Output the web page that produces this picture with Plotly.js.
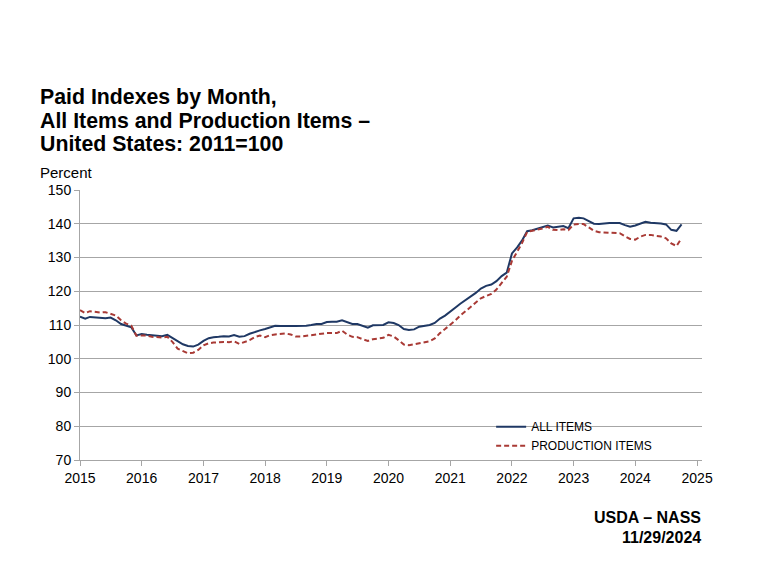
<!DOCTYPE html>
<html>
<head>
<meta charset="utf-8">
<script src="https://cdn.plot.ly/plotly-3.0.1.min.js"></script>
<style>html,body{margin:0;padding:0;background:#fff}#chart{width:760px;height:570px}</style>
</head>
<body>
<div id="chart"></div>
<script>
// Monthly series, January 2015 through October 2024
const startYear = 2015;
const allItems = [
112.5,111.9,112.4,112.2,112.0,112.0,112.2,111.4,110.3,109.8,109.3,106.9,
107.3,107.1,107.0,106.8,106.7,107.1,106.2,105.1,104.3,103.8,103.6,104.2,
105.3,106.1,106.4,106.5,106.7,106.6,107.0,106.5,106.7,107.4,108.0,108.4,
108.8,109.4,109.8,109.7,109.6,109.7,109.7,109.7,109.8,110.0,110.3,110.3,
110.9,111.0,111.0,111.4,110.9,110.3,110.3,109.8,109.2,109.9,110.0,110.0,
110.8,110.6,110.0,108.8,108.5,108.7,109.5,109.8,110.0,110.6,111.9,112.8,
113.9,115.2,116.3,117.3,118.4,119.5,120.8,121.6,122.0,123.0,124.5,125.5,
131.2,133.0,135.0,137.8,138.1,138.6,138.9,139.5,138.9,139.1,139.3,138.7,
141.6,141.8,141.6,140.8,140.0,139.9,140.1,140.2,140.2,140.2,139.6,139.1,
139.5,140.0,140.6,140.3,140.3,140.1,139.8,138.2,137.9,139.8
];
const productionItems = [
114.4,113.5,114.1,113.8,113.7,113.8,113.3,112.8,111.4,110.4,109.8,106.8,
106.9,106.9,106.5,106.4,106.3,106.5,105.0,103.0,102.2,101.6,101.8,102.6,
104.0,104.6,104.8,105.0,105.0,104.9,105.2,104.4,104.9,105.5,106.4,106.9,
106.4,107.0,107.2,107.4,107.5,107.2,106.6,106.6,106.8,107.1,107.3,107.6,
107.6,107.6,107.6,108.3,107.2,106.5,106.4,105.8,105.3,105.8,106.0,106.2,
107.1,106.6,105.5,104.2,104.0,104.3,104.6,104.9,105.2,106.0,107.6,108.8,
110.0,111.4,112.8,114.0,115.3,116.7,117.9,118.6,119.2,120.5,122.3,124.3,
129.0,131.7,134.2,137.6,137.9,138.1,138.6,139.1,138.2,138.1,138.4,138.1,
139.8,139.9,139.9,138.9,137.9,137.5,137.4,137.4,137.3,137.2,136.3,135.5,
135.3,136.2,136.7,136.7,136.4,136.2,135.7,134.2,133.4,135.7
];
const seriesNames = ["ALL ITEMS", "PRODUCTION ITEMS"];
const yTicks = [70, 80, 90, 100, 110, 120, 130, 140, 150];
const titleLines = ["Paid Indexes by Month,", "All Items and Production Items \u2013", "United States: 2011=100"];
const sourceLines = ["USDA \u2013 NASS", "11/29/2024"];

const months = allItems.map((_, i) => {
  const y = startYear + Math.floor(i / 12);
  const m = (i % 12) + 1;
  return y + "-" + String(m).padStart(2, "0") + "-01";
});
const yearTicks = [];
for (let y = startYear; y <= 2025; y++) yearTicks.push(y + "-01-01");

const font = "Liberation Sans, Arial, sans-serif";
const grid = "#a6a6a6";

const traces = [
  {x: months, y: allItems, name: seriesNames[0], type: "scatter", mode: "lines",
   line: {color: "#1f3864", width: 2}},
  {x: months, y: productionItems, name: seriesNames[1], type: "scatter", mode: "lines",
   line: {color: "#a93a35", width: 2, dash: "5px,3px"}}
];

// plot area: x 80..702, y 190..460
const px = v => (v - 80) / 622;
const py = v => (460 - v) / 270;

const annotations = titleLines.map((t, k) => ({
  text: t, xref: "paper", yref: "paper", x: px(38), y: py(97 + 23.5 * k),
  xanchor: "left", yanchor: "middle", showarrow: false,
  font: {family: font, size: 21.3, color: "#000", weight: "bold"}
}));
annotations.push({text: "Percent", xref: "paper", yref: "paper", x: px(38), y: py(172),
  xanchor: "left", yanchor: "middle", showarrow: false,
  font: {family: font, size: 15, color: "#000"}});
sourceLines.forEach((t, k) => annotations.push({
  text: t, xref: "paper", yref: "paper", x: px(703), y: py(517 + 20 * k),
  xanchor: "right", yanchor: "middle", showarrow: false,
  font: {family: font, size: 16, color: "#000", weight: "bold"}
}));

const layout = {
  width: 760, height: 570,
  margin: {l: 80, r: 58, t: 190, b: 110},
  paper_bgcolor: "#ffffff", plot_bgcolor: "#ffffff",
  font: {family: font, size: 14, color: "#000"},
  showlegend: true,
  legend: {x: 0.661, y: 0.177, xanchor: "left", yanchor: "top",
           bgcolor: "rgba(0,0,0,0)", font: {family: font, size: 12, color: "#000"},
           tracegroupgap: 0},
  xaxis: {type: "date", range: ["2015-01-01", "2025-01-30"],
          tickvals: yearTicks,
          tickformat: "%Y", showgrid: false, showline: true, linecolor: grid, linewidth: 1,
          ticks: "outside", ticklen: 5, tickcolor: grid, zeroline: false,
          tickfont: {family: font, size: 14, color: "#000"}},
  yaxis: {range: [70, 150], tickvals: yTicks, showgrid: true, gridcolor: grid, gridwidth: 1,
          showline: true, linecolor: grid, linewidth: 1, ticks: "outside", ticklen: 5,
          tickcolor: grid, zeroline: false,
          tickfont: {family: font, size: 14, color: "#000"}},
  annotations: annotations
};

Plotly.newPlot("chart", traces, layout, {displayModeBar: false, staticPlot: true});
</script>
</body>
</html>
